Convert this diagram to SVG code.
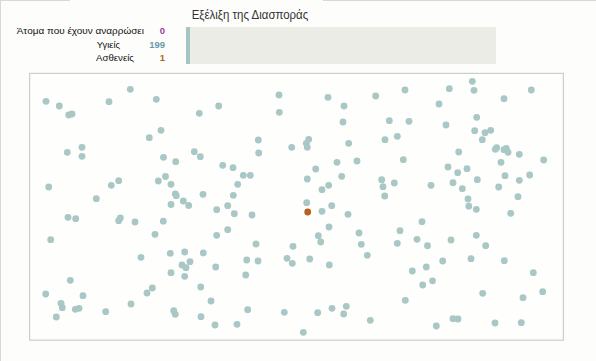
<svg xmlns="http://www.w3.org/2000/svg" width="596" height="361" viewBox="0 0 596 361">
<style>
.bg{fill:#fdfdfb}
.edge{stroke:#d3dbd9;stroke-width:1;fill:none}
.frame{fill:#fefefc;stroke:#c6d1cf;stroke-width:1.2}
.title{font-family:"Liberation Sans",Arial,sans-serif;font-size:12.5px;fill:#333333}
.lbl{font-family:"Liberation Sans",Arial,sans-serif;font-size:9.5px;fill:#111111}
.num{font-family:"Liberation Sans",Arial,sans-serif;font-size:9.5px;font-weight:bold;text-anchor:end}
.h{fill:#a8c7c5}
.s{fill:#b5601f}
</style>
<rect class="bg" x="0" y="0" width="596" height="361"/>
<g id="page-edges">
<line class="edge" x1="0" y1="0.5" x2="70" y2="0.5"/>
<line class="edge" x1="323" y1="0.5" x2="596" y2="0.5"/>
<line class="edge" x1="0.5" y1="0" x2="0.5" y2="361"/>
</g>
<g id="title">
<text class="title" x="191.7" y="19" textLength="116.6" lengthAdjust="spacingAndGlyphs">Εξέλιξη της Διασποράς</text>
</g>
<g id="legend">
<text class="lbl" x="16.7" y="34.3" textLength="127.3" lengthAdjust="spacingAndGlyphs">Άτομα που έχουν αναρρώσει</text>
<text class="num" x="165" y="34.3" fill="#9c3d97">0</text>
<text class="lbl" x="96.7" y="47.7" textLength="23.3" lengthAdjust="spacingAndGlyphs">Υγιείς</text>
<text class="num" x="165" y="47.7" fill="#6b9aa5">199</text>
<text class="lbl" x="96" y="61" textLength="38" lengthAdjust="spacingAndGlyphs">Ασθενείς</text>
<text class="num" x="165" y="61" fill="#b0621f">1</text>
</g>
<g id="progress-bar">
<rect x="186" y="27" width="310" height="37" fill="#ecece7"/>
<rect x="186" y="27" width="4" height="37" fill="#a3c5c4"/>
</g>
<g id="field">
<rect class="frame" x="29.6" y="73.4" width="533.8" height="266.8"/>
</g>
<g id="population">
<g class="h">
<circle cx="46" cy="101.3" r="3.4"/>
<circle cx="59.3" cy="106" r="3.4"/>
<circle cx="68.7" cy="115" r="3.4"/>
<circle cx="72" cy="114" r="3.4"/>
<circle cx="109" cy="101.7" r="3.4"/>
<circle cx="130.3" cy="89.3" r="3.4"/>
<circle cx="156.3" cy="99.3" r="3.4"/>
<circle cx="161" cy="130.3" r="3.4"/>
<circle cx="149.3" cy="137.7" r="3.4"/>
<circle cx="67.3" cy="152.3" r="3.4"/>
<circle cx="82" cy="147.3" r="3.4"/>
<circle cx="82" cy="156.3" r="3.4"/>
<circle cx="163.5" cy="157.3" r="3.4"/>
<circle cx="48.7" cy="187" r="3.4"/>
<circle cx="111.3" cy="185.3" r="3.4"/>
<circle cx="118.7" cy="180.7" r="3.4"/>
<circle cx="158.3" cy="181" r="3.4"/>
<circle cx="165.5" cy="176.5" r="3.4"/>
<circle cx="96.3" cy="198.7" r="3.4"/>
<circle cx="279" cy="95" r="3.4"/>
<circle cx="279.3" cy="112.3" r="3.4"/>
<circle cx="218.7" cy="106" r="3.4"/>
<circle cx="199.3" cy="113.3" r="3.4"/>
<circle cx="258.3" cy="140" r="3.4"/>
<circle cx="258.7" cy="153" r="3.4"/>
<circle cx="291.7" cy="147.3" r="3.4"/>
<circle cx="194.3" cy="151.7" r="3.4"/>
<circle cx="200.3" cy="156.7" r="3.4"/>
<circle cx="175.7" cy="161.7" r="3.4"/>
<circle cx="222.7" cy="165.3" r="3.4"/>
<circle cx="233" cy="167.7" r="3.4"/>
<circle cx="243.3" cy="175.3" r="3.4"/>
<circle cx="250.3" cy="175.3" r="3.4"/>
<circle cx="237.7" cy="184.3" r="3.4"/>
<circle cx="171" cy="184.3" r="3.4"/>
<circle cx="175.3" cy="194" r="3.4"/>
<circle cx="176.3" cy="195.7" r="3.4"/>
<circle cx="203" cy="194.3" r="3.4"/>
<circle cx="233.3" cy="195.3" r="3.4"/>
<circle cx="183.3" cy="201" r="3.4"/>
<circle cx="188.7" cy="205.5" r="3.4"/>
<circle cx="171" cy="204.5" r="3.4"/>
<circle cx="227.7" cy="205.7" r="3.4"/>
<circle cx="328" cy="97.3" r="3.4"/>
<circle cx="344" cy="106" r="3.4"/>
<circle cx="375.7" cy="96" r="3.4"/>
<circle cx="405" cy="90" r="3.4"/>
<circle cx="343" cy="122" r="3.4"/>
<circle cx="389.3" cy="120.7" r="3.4"/>
<circle cx="409" cy="121.3" r="3.4"/>
<circle cx="308.7" cy="139.3" r="3.4"/>
<circle cx="306.3" cy="143.3" r="3.4"/>
<circle cx="307.3" cy="147.3" r="3.4"/>
<circle cx="348.7" cy="143.3" r="3.4"/>
<circle cx="385" cy="139.7" r="3.4"/>
<circle cx="397.3" cy="136.3" r="3.4"/>
<circle cx="337" cy="162.3" r="3.4"/>
<circle cx="357" cy="161" r="3.4"/>
<circle cx="403.3" cy="159.7" r="3.4"/>
<circle cx="315.7" cy="169" r="3.4"/>
<circle cx="307.3" cy="179" r="3.4"/>
<circle cx="341.7" cy="176.3" r="3.4"/>
<circle cx="322" cy="189.7" r="3.4"/>
<circle cx="328.7" cy="185.3" r="3.4"/>
<circle cx="381.7" cy="179.7" r="3.4"/>
<circle cx="383" cy="186.7" r="3.4"/>
<circle cx="394.3" cy="183" r="3.4"/>
<circle cx="384.7" cy="196" r="3.4"/>
<circle cx="431" cy="185.3" r="3.4"/>
<circle cx="306.7" cy="202.7" r="3.4"/>
<circle cx="331.7" cy="205.7" r="3.4"/>
<circle cx="472.3" cy="81.3" r="3.4"/>
<circle cx="449.3" cy="88.7" r="3.4"/>
<circle cx="474" cy="90.3" r="3.4"/>
<circle cx="531.3" cy="90" r="3.4"/>
<circle cx="504" cy="98.7" r="3.4"/>
<circle cx="439" cy="104" r="3.4"/>
<circle cx="476.7" cy="117.3" r="3.4"/>
<circle cx="446" cy="125" r="3.4"/>
<circle cx="474.7" cy="130.7" r="3.4"/>
<circle cx="485" cy="132.7" r="3.4"/>
<circle cx="490.7" cy="130.3" r="3.4"/>
<circle cx="482.3" cy="139.7" r="3.4"/>
<circle cx="495.3" cy="149.3" r="3.4"/>
<circle cx="496.7" cy="147.7" r="3.4"/>
<circle cx="504" cy="149.7" r="3.4"/>
<circle cx="506.3" cy="148.3" r="3.4"/>
<circle cx="508" cy="152.3" r="3.4"/>
<circle cx="519.3" cy="154.3" r="3.4"/>
<circle cx="458.7" cy="152" r="3.4"/>
<circle cx="543.7" cy="160" r="3.4"/>
<circle cx="501" cy="162.3" r="3.4"/>
<circle cx="448" cy="167" r="3.4"/>
<circle cx="457.7" cy="172.7" r="3.4"/>
<circle cx="467" cy="168.7" r="3.4"/>
<circle cx="505" cy="175.7" r="3.4"/>
<circle cx="529.7" cy="175" r="3.4"/>
<circle cx="519.3" cy="180.3" r="3.4"/>
<circle cx="477.3" cy="179.7" r="3.4"/>
<circle cx="453" cy="182.7" r="3.4"/>
<circle cx="462.3" cy="188.7" r="3.4"/>
<circle cx="498.7" cy="187" r="3.4"/>
<circle cx="518" cy="196.7" r="3.4"/>
<circle cx="468" cy="199" r="3.4"/>
<circle cx="468.8" cy="206.2" r="3.4"/>
<circle cx="68" cy="217.3" r="3.4"/>
<circle cx="75.7" cy="218.7" r="3.4"/>
<circle cx="118.7" cy="220.7" r="3.4"/>
<circle cx="120.3" cy="218" r="3.4"/>
<circle cx="135" cy="222" r="3.4"/>
<circle cx="163.3" cy="221.2" r="3.4"/>
<circle cx="50.7" cy="239.7" r="3.4"/>
<circle cx="155" cy="234.3" r="3.4"/>
<circle cx="141" cy="257.3" r="3.4"/>
<circle cx="70.3" cy="280.3" r="3.4"/>
<circle cx="45.7" cy="294" r="3.4"/>
<circle cx="83" cy="295.7" r="3.4"/>
<circle cx="61" cy="303.3" r="3.4"/>
<circle cx="62.3" cy="307.7" r="3.4"/>
<circle cx="75.3" cy="309.3" r="3.4"/>
<circle cx="79" cy="308.3" r="3.4"/>
<circle cx="56.3" cy="317" r="3.4"/>
<circle cx="105.7" cy="311.7" r="3.4"/>
<circle cx="131" cy="304" r="3.4"/>
<circle cx="147" cy="293" r="3.4"/>
<circle cx="152.3" cy="288" r="3.4"/>
<circle cx="216.7" cy="209.7" r="3.4"/>
<circle cx="234.3" cy="213.7" r="3.4"/>
<circle cx="252" cy="215" r="3.4"/>
<circle cx="227.7" cy="229.7" r="3.4"/>
<circle cx="216.7" cy="235.3" r="3.4"/>
<circle cx="256" cy="244" r="3.4"/>
<circle cx="293" cy="246.3" r="3.4"/>
<circle cx="170.3" cy="253.3" r="3.4"/>
<circle cx="184.7" cy="252" r="3.4"/>
<circle cx="203.3" cy="253" r="3.4"/>
<circle cx="182" cy="265" r="3.4"/>
<circle cx="186" cy="267.7" r="3.4"/>
<circle cx="190" cy="261.7" r="3.4"/>
<circle cx="215.7" cy="267" r="3.4"/>
<circle cx="246.7" cy="260" r="3.4"/>
<circle cx="258" cy="261" r="3.4"/>
<circle cx="287" cy="258.3" r="3.4"/>
<circle cx="292.3" cy="263.3" r="3.4"/>
<circle cx="171" cy="272.7" r="3.4"/>
<circle cx="184.7" cy="276.3" r="3.4"/>
<circle cx="245.7" cy="275" r="3.4"/>
<circle cx="200.7" cy="287" r="3.4"/>
<circle cx="211" cy="301" r="3.4"/>
<circle cx="173.7" cy="310.7" r="3.4"/>
<circle cx="175.3" cy="314.3" r="3.4"/>
<circle cx="247.7" cy="309.7" r="3.4"/>
<circle cx="284.3" cy="312.3" r="3.4"/>
<circle cx="201" cy="316.7" r="3.4"/>
<circle cx="215" cy="325" r="3.4"/>
<circle cx="237" cy="324.3" r="3.4"/>
<circle cx="322" cy="211.3" r="3.4"/>
<circle cx="348" cy="214.3" r="3.4"/>
<circle cx="329" cy="227" r="3.4"/>
<circle cx="318.3" cy="235.7" r="3.4"/>
<circle cx="320.7" cy="242" r="3.4"/>
<circle cx="359" cy="233" r="3.4"/>
<circle cx="361.3" cy="244.3" r="3.4"/>
<circle cx="367.3" cy="255.3" r="3.4"/>
<circle cx="400" cy="230.7" r="3.4"/>
<circle cx="422" cy="221.7" r="3.4"/>
<circle cx="397.3" cy="243.3" r="3.4"/>
<circle cx="417" cy="239.3" r="3.4"/>
<circle cx="427.5" cy="245.7" r="3.4"/>
<circle cx="309.7" cy="259" r="3.4"/>
<circle cx="329.3" cy="265" r="3.4"/>
<circle cx="412.3" cy="271" r="3.4"/>
<circle cx="426.3" cy="267" r="3.4"/>
<circle cx="422.7" cy="285" r="3.4"/>
<circle cx="432.5" cy="280.8" r="3.4"/>
<circle cx="405.3" cy="300.3" r="3.4"/>
<circle cx="317.7" cy="312.7" r="3.4"/>
<circle cx="332" cy="308.3" r="3.4"/>
<circle cx="346.3" cy="306.3" r="3.4"/>
<circle cx="343.7" cy="314" r="3.4"/>
<circle cx="370.3" cy="320.3" r="3.4"/>
<circle cx="303.3" cy="332.3" r="3.4"/>
<circle cx="476.3" cy="209.3" r="3.4"/>
<circle cx="510.7" cy="213.3" r="3.4"/>
<circle cx="451" cy="240" r="3.4"/>
<circle cx="476.3" cy="235.3" r="3.4"/>
<circle cx="485.7" cy="245.7" r="3.4"/>
<circle cx="442.7" cy="261" r="3.4"/>
<circle cx="471" cy="258.7" r="3.4"/>
<circle cx="504.3" cy="260.7" r="3.4"/>
<circle cx="533.3" cy="272.7" r="3.4"/>
<circle cx="482.7" cy="293.3" r="3.4"/>
<circle cx="523" cy="297.7" r="3.4"/>
<circle cx="542.7" cy="291.7" r="3.4"/>
<circle cx="453" cy="318.7" r="3.4"/>
<circle cx="458" cy="319" r="3.4"/>
<circle cx="495" cy="323" r="3.4"/>
<circle cx="521.3" cy="322.7" r="3.4"/>
<circle cx="436.3" cy="326" r="3.4"/>
</g>
<circle class="s" cx="307.7" cy="212" r="3.4"/>
</g>
</svg>
